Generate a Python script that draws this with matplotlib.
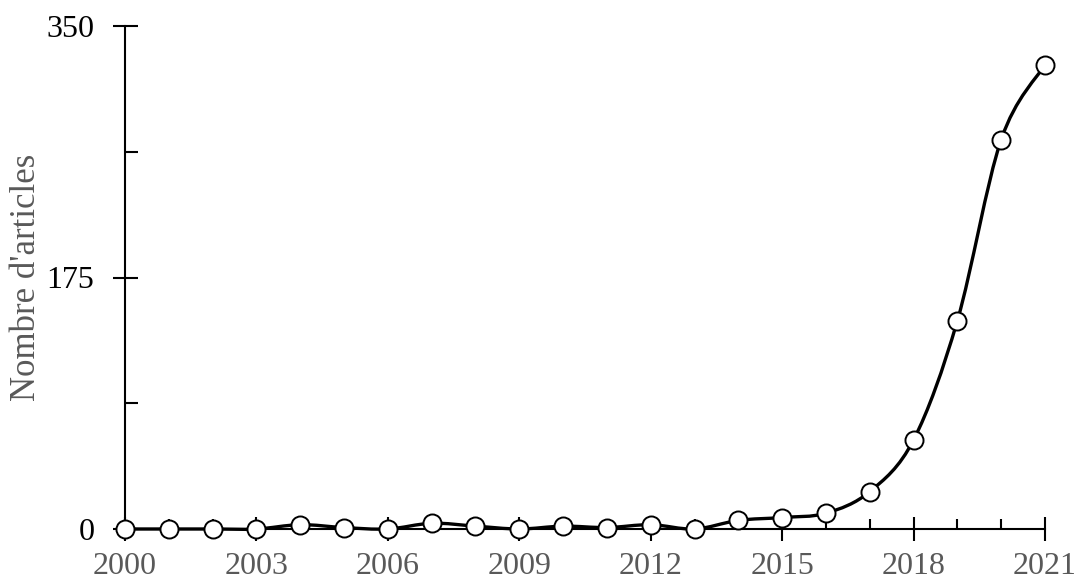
"""
Nombre d'articles par année (2000-2021), courbe lissée façon tableur.
"""
import numpy as np
import matplotlib
matplotlib.use("Agg")
import matplotlib.pyplot as plt
from matplotlib.path import Path
from matplotlib.patches import PathPatch
from matplotlib.ticker import MultipleLocator

# ── Data ────────────────────────────────────────────────
years = list(range(2000, 2022))
articles = [0, 0, 0, 0, 3, 1, 0, 4, 2, 0, 2, 1, 3, 0,
            6, 8, 11, 26, 62, 145, 271, 323]

x_ticks = [2000, 2003, 2006, 2009, 2012, 2015, 2018, 2021]
y_ticks = [0, 175, 350]

# ── Figure setup ────────────────────────────────────────
plt.rcParams.update({
    "font.family": ["Liberation Serif", "DejaVu Serif"],
    "font.size": 23,
})

fig = plt.figure(figsize=(10.75, 5.79), dpi=100)
ax = fig.add_axes([125 / 1075, 50 / 579, 920 / 1075, 503 / 579])

# Smooth curve through the points (Catmull-Rom style bezier, like Excel)
x = np.array(years, dtype=float)
y = np.array(articles, dtype=float)
n = len(x)
verts = [(x[0], y[0])]
codes = [Path.MOVETO]
for i in range(n - 1):
    p0 = np.array([x[max(i - 1, 0)], y[max(i - 1, 0)]])
    p1 = np.array([x[i], y[i]])
    p2 = np.array([x[i + 1], y[i + 1]])
    p3 = np.array([x[min(i + 2, n - 1)], y[min(i + 2, n - 1)]])
    c1 = p1 + (p2 - p0) / 6.0
    c2 = p2 - (p3 - p1) / 6.0
    verts += [tuple(c1), tuple(c2), tuple(p2)]
    codes += [Path.CURVE4] * 3
curve = PathPatch(Path(verts, codes), facecolor="none", edgecolor="black",
                  linewidth=2.4, zorder=3, clip_on=False)
ax.add_patch(curve)

ax.plot(years, articles, linestyle="none", marker="o", markersize=13,
        markerfacecolor="white", markeredgecolor="black",
        markeredgewidth=1.4, zorder=4, clip_on=False)

ax.set_xlim(2000, 2021)
ax.set_ylim(0, 350)

# ── Axes styling ────────────────────────────────────────
for s in ["top", "right"]:
    ax.spines[s].set_visible(False)
for s in ["left", "bottom"]:
    ax.spines[s].set_linewidth(1.5)
    ax.spines[s].set_color("black")

ax.set_xticks(x_ticks)
ax.set_xticklabels([str(t) for t in x_ticks])
ax.xaxis.set_minor_locator(MultipleLocator(1))
ax.set_yticks(y_ticks)
ax.set_yticklabels([str(t) for t in y_ticks])
ax.yaxis.set_minor_locator(MultipleLocator(87.5))

ax.tick_params(axis="x", which="major", direction="inout", length=17,
               width=1.5, pad=8, labelsize=23, labelcolor="#595959")
ax.tick_params(axis="x", which="minor", direction="in", length=7, width=1.5)
ax.tick_params(axis="y", which="major", direction="inout", length=18,
               width=1.5, pad=13, labelsize=23, labelcolor="black")
ax.tick_params(axis="y", which="minor", direction="in", length=9, width=1.5)

ax.set_ylabel("Nombre d'articles", fontsize=25, color="#595959")
ax.yaxis.set_label_coords(-0.089, 0.5)

fig.savefig("out.png", dpi=100)
plt.close()
